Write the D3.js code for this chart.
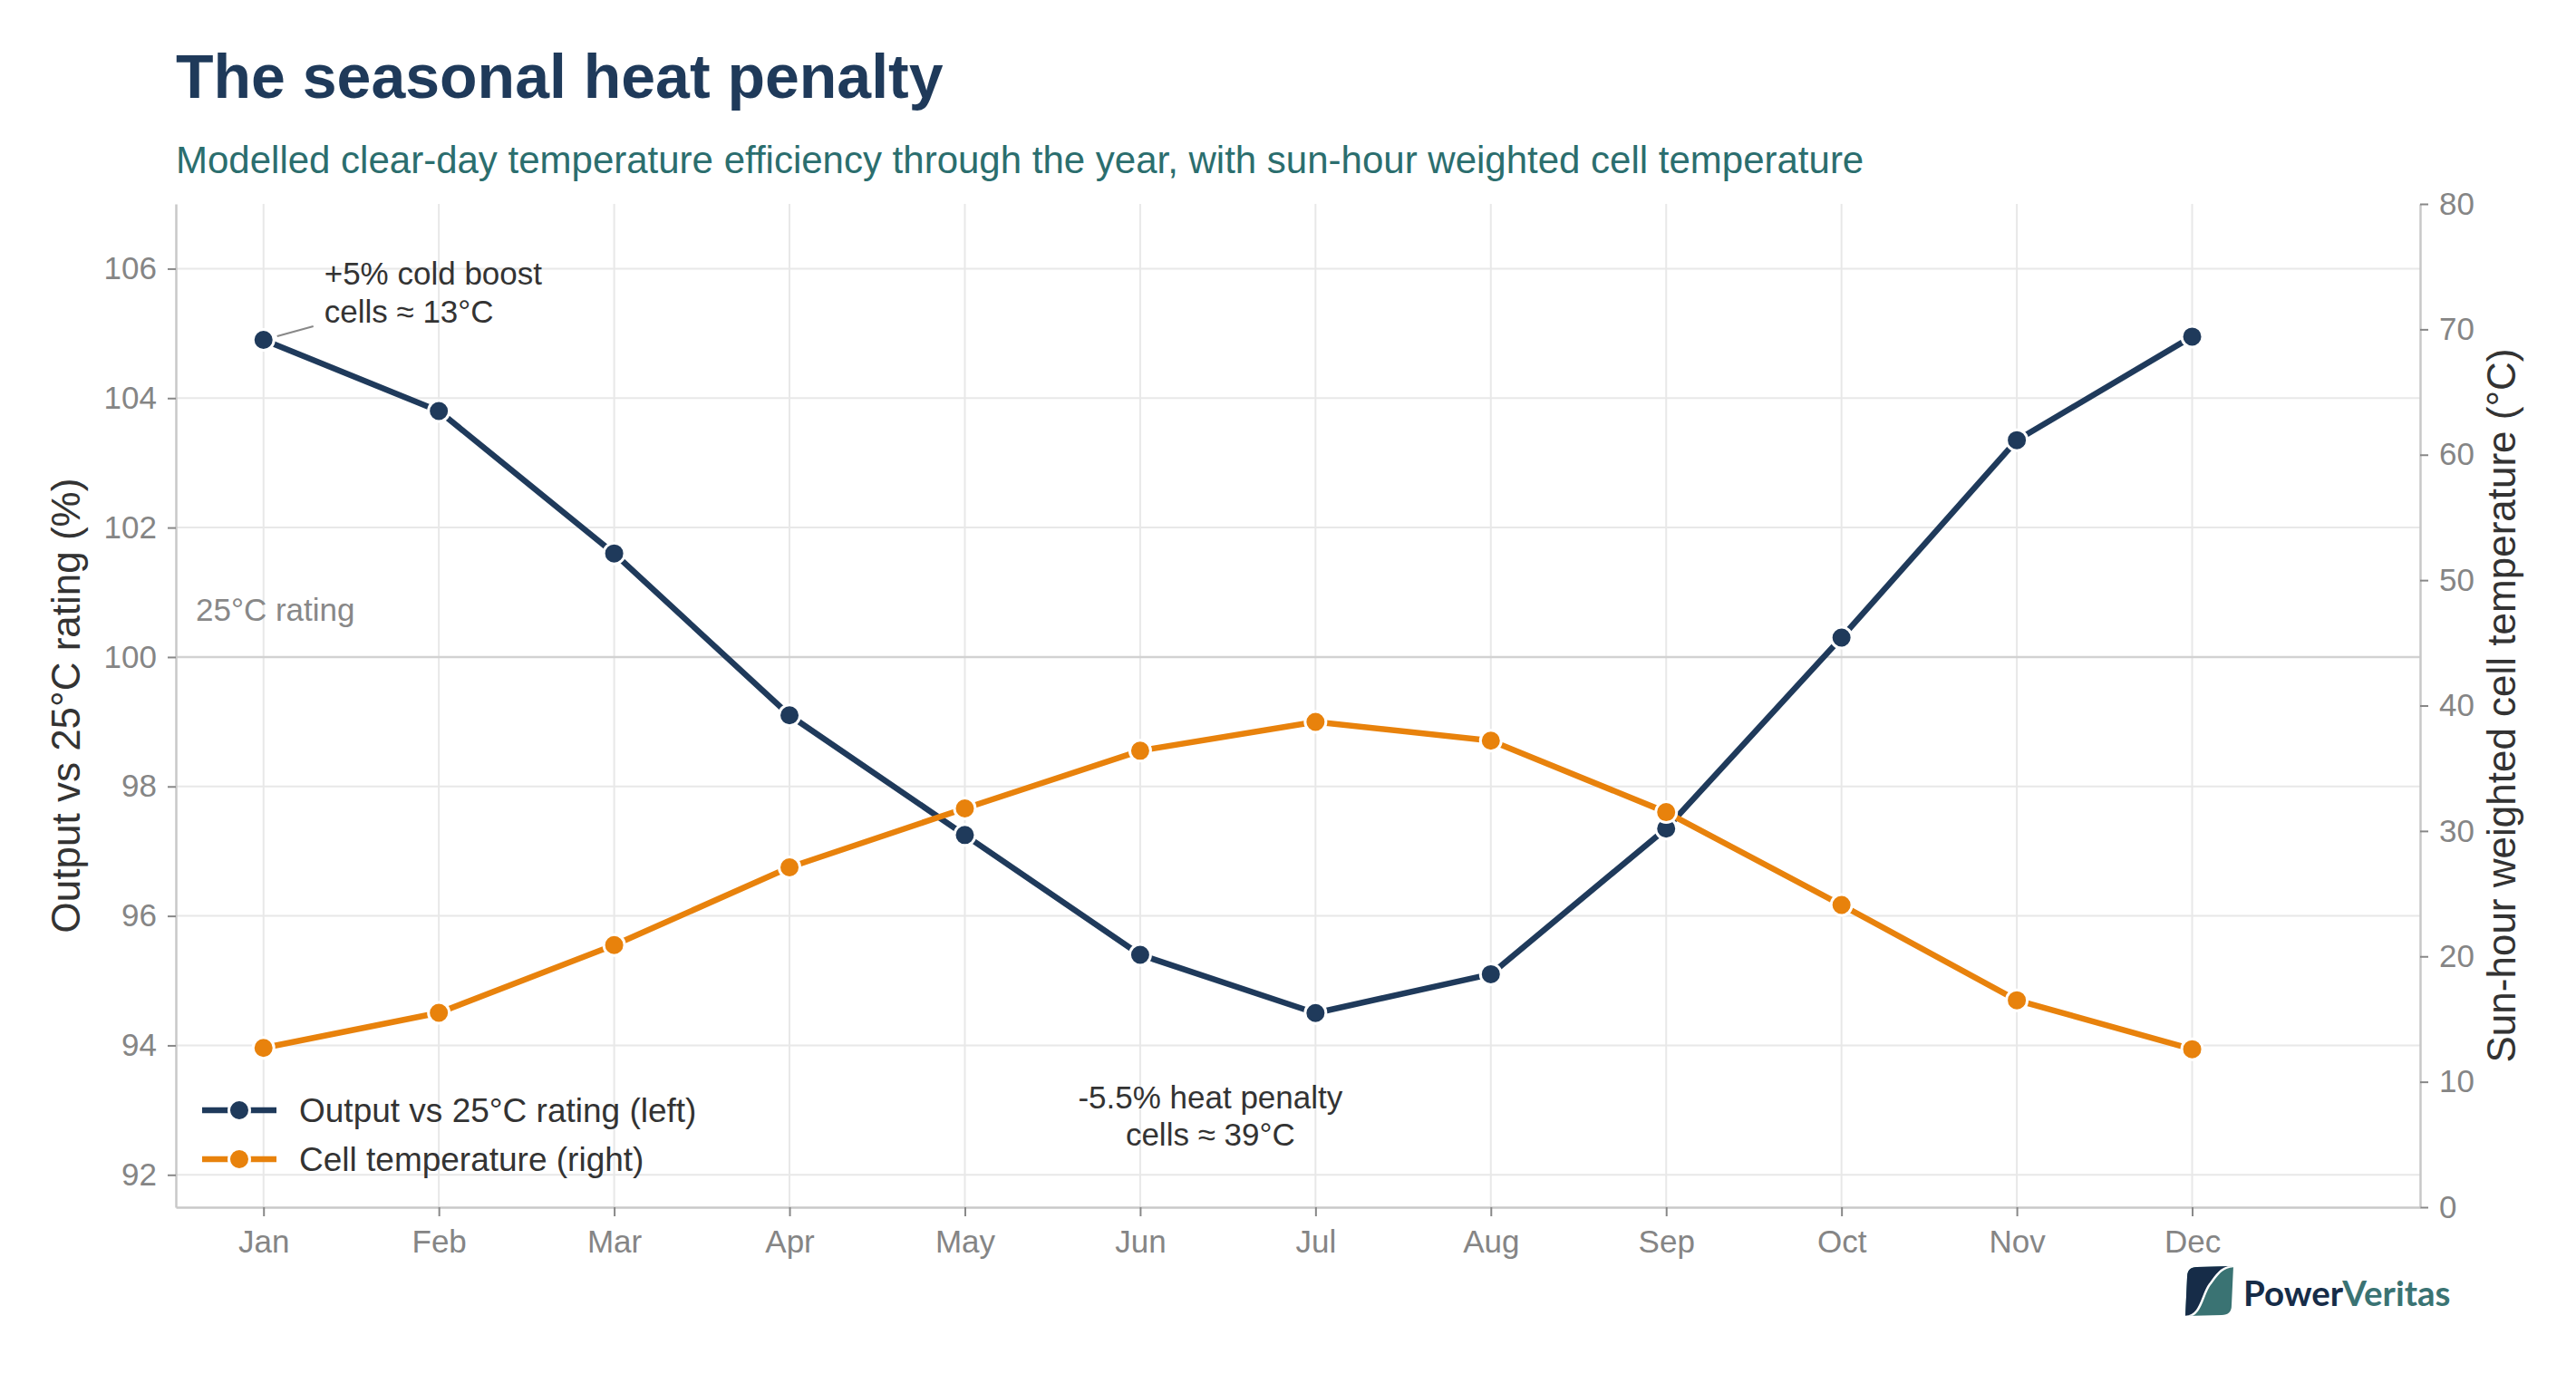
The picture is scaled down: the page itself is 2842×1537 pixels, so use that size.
<!DOCTYPE html>
<html>
<head>
<meta charset="utf-8">
<script src="https://cdn.jsdelivr.net/npm/d3@7"></script>
<style>
  body { margin: 0; background: #fff; }
  svg { display: block; font-family: "Liberation Sans", Arial, sans-serif; }
</style>
</head>
<body>
<div id="chart"></div>
<script>
// values
const months = ["Jan", "Feb", "Mar", "Apr", "May", "Jun", "Jul", "Aug", "Sep", "Oct", "Nov", "Dec"];
const outputPct = [104.9, 103.8, 101.6, 99.1, 97.25, 95.4, 94.5, 95.1, 97.35, 100.3, 103.35, 104.95];
const cellTemp = [12.7, 15.5, 20.9, 27.1, 31.8, 36.4, 38.7, 37.2, 31.5, 24.1, 16.5, 12.6];
const leftTicks = [92, 94, 96, 98, 100, 102, 104, 106];
const rightTicks = [0, 10, 20, 30, 40, 50, 60, 70, 80];

const W = 2842, H = 1537;
const margin = {top: 225, right: 172, bottom: 205, left: 194};
const width = W - margin.left - margin.right,
      height = H - margin.top - margin.bottom;

const navy = "#1f3a5b", orange = "#e8820c";

const svg = d3.select("#chart").append("svg")
    .attr("width", W)
    .attr("height", H);

// title + subtitle
svg.append("text")
    .attr("x", 194).attr("y", 108)
    .attr("font-size", 68).attr("font-weight", "bold")
    .attr("fill", "#1f3a5a")
    .text("The seasonal heat penalty");
svg.append("text")
    .attr("x", 194).attr("y", 191)
    .attr("font-size", 42)
    .attr("fill", "#2b6e6e")
    .text("Modelled clear-day temperature efficiency through the year, with sun-hour weighted cell temperature");

const g = svg.append("g")
    .attr("transform", "translate(" + margin.left + "," + margin.top + ")");

const x = d3.scaleLinear().domain([0.5, 13.3]).range([0, width]);
const yL = d3.scaleLinear().domain([91.5, 107]).range([height, 0]);
const yR = d3.scaleLinear().domain([0, 80]).range([height, 0]);

// grid
g.append("g").selectAll("line")
  .data(months)
  .enter().append("line")
    .attr("x1", (d, i) => x(i + 1)).attr("x2", (d, i) => x(i + 1))
    .attr("y1", 0).attr("y2", height)
    .attr("stroke", "#e8e8e8").attr("stroke-width", 2);
g.append("g").selectAll("line")
  .data(leftTicks)
  .enter().append("line")
    .attr("x1", 0).attr("x2", width)
    .attr("y1", d => yL(d)).attr("y2", d => yL(d))
    .attr("stroke", d => d === 100 ? "#d2d2d2" : "#e8e8e8")
    .attr("stroke-width", d => d === 100 ? 2.5 : 2);

// axes
function styleAxis(sel) {
  sel.select(".domain").attr("stroke", "#c8c8c8").attr("stroke-width", 2.5);
  sel.selectAll(".tick line").attr("stroke", "#888").attr("stroke-width", 2);
  sel.selectAll(".tick text").attr("fill", "#858585").attr("font-size", 35)
    .attr("font-family", "'Liberation Sans', Arial, sans-serif");
}

g.append("g")
  .call(d3.axisLeft(yL).tickValues(leftTicks).tickSize(9).tickPadding(12).tickSizeOuter(0))
  .call(styleAxis);

g.append("g")
  .attr("transform", "translate(" + width + ",0)")
  .call(d3.axisRight(yR).tickValues(rightTicks).tickSize(9).tickPadding(12).tickSizeOuter(0))
  .call(styleAxis);

g.append("g")
  .attr("transform", "translate(0," + height + ")")
  .call(d3.axisBottom(x).tickValues(d3.range(1, 13)).tickFormat(d => months[d - 1])
    .tickSize(10).tickPadding(15).tickSizeOuter(0))
  .call(styleAxis);

// axis titles
svg.append("text")
  .attr("transform", "translate(88," + (margin.top + height / 2) + ") rotate(-90)")
  .attr("text-anchor", "middle")
  .attr("font-size", 44).attr("fill", "#333")
  .text("Output vs 25°C rating (%)");
svg.append("text")
  .attr("transform", "translate(2775," + (margin.top + height / 2) + ") rotate(-90)")
  .attr("text-anchor", "middle")
  .attr("font-size", 44).attr("fill", "#333")
  .text("Sun-hour weighted cell temperature (°C)");

// reference label
g.append("text")
  .attr("x", 22).attr("y", yL(100) - 40)
  .attr("font-size", 35).attr("fill", "#888")
  .text("25°C rating");

// series
function drawSeries(vals, yScale, color) {
  const line = d3.line().x((d, i) => x(i + 1)).y(d => yScale(d));
  g.append("path")
    .datum(vals)
    .attr("fill", "none")
    .attr("stroke", color)
    .attr("stroke-width", 6.5)
    .attr("stroke-linejoin", "round")
    .attr("d", line);
  g.append("g").selectAll("circle")
    .data(vals)
    .enter().append("circle")
      .attr("cx", (d, i) => x(i + 1))
      .attr("cy", d => yScale(d))
      .attr("r", 11.5)
      .attr("fill", color)
      .attr("stroke", "#fff")
      .attr("stroke-width", 3);
}
drawSeries(outputPct, yL, navy);
drawSeries(cellTemp, yR, orange);

// annotations
const janX = x(1), janY = yL(outputPct[0]);
g.append("line")
  .attr("x1", janX + 15).attr("y1", janY - 4)
  .attr("x2", janX + 55).attr("y2", janY - 15)
  .attr("stroke", "#888").attr("stroke-width", 2);
const ann1 = g.append("text")
  .attr("font-size", 35).attr("fill", "#333");
ann1.append("tspan").attr("x", janX + 67).attr("y", 89).text("+5% cold boost");
ann1.append("tspan").attr("x", janX + 67).attr("y", 131).text("cells ≈ 13°C");

const ann2 = g.append("text")
  .attr("font-size", 35).attr("fill", "#333").attr("text-anchor", "middle");
ann2.append("tspan").attr("x", x(7) - 116).attr("y", 998).text("-5.5% heat penalty");
ann2.append("tspan").attr("x", x(7) - 116).attr("y", 1039).text("cells ≈ 39°C");

// legend
const legend = g.append("g").attr("transform", "translate(29,0)");
[["Output vs 25°C rating (left)", navy], ["Cell temperature (right)", orange]].forEach((d, i) => {
  const ly = 1000 + i * 54;
  legend.append("line")
    .attr("x1", 0).attr("x2", 82).attr("y1", ly).attr("y2", ly)
    .attr("stroke", d[1]).attr("stroke-width", 6.5);
  legend.append("circle")
    .attr("cx", 41).attr("cy", ly).attr("r", 11.5)
    .attr("fill", d[1]).attr("stroke", "#fff").attr("stroke-width", 3);
  legend.append("text")
    .attr("x", 107).attr("y", ly + 13)
    .attr("font-size", 37).attr("fill", "#333")
    .text(d[0]);
});

// logo
const logo = svg.append("g").attr("transform", "translate(2411,1397)");
const shape = "M2,12 Q2,1 13,1 L53,0 L51,43 Q51,54 40,54 L0,55 Z";
logo.append("clipPath").attr("id", "leaf").append("path").attr("d", shape);
logo.append("path").attr("d", shape).attr("fill", "#3a7373");
logo.append("path")
  .attr("d", "M0,56 C18,55 18,32 27,20 S40,1 54,0 L0,0 Z")
  .attr("fill", "#162c48").attr("clip-path", "url(#leaf)");
logo.append("path")
  .attr("d", "M0,56 C18,55 18,32 27,20 S40,1 54,0")
  .attr("fill", "none").attr("stroke", "#fff").attr("stroke-width", 2.5)
  .attr("clip-path", "url(#leaf)");
const brand = logo.append("text")
  .attr("x", 64).attr("y", 44)
  .attr("font-family", "Lato, 'Open Sans', sans-serif")
  .attr("font-weight", "bold").attr("font-size", 38.5);
brand.append("tspan").attr("fill", "#162c48").text("Power");
brand.append("tspan").attr("fill", "#3a7373").text("Veritas");
</script>
</body>
</html>
